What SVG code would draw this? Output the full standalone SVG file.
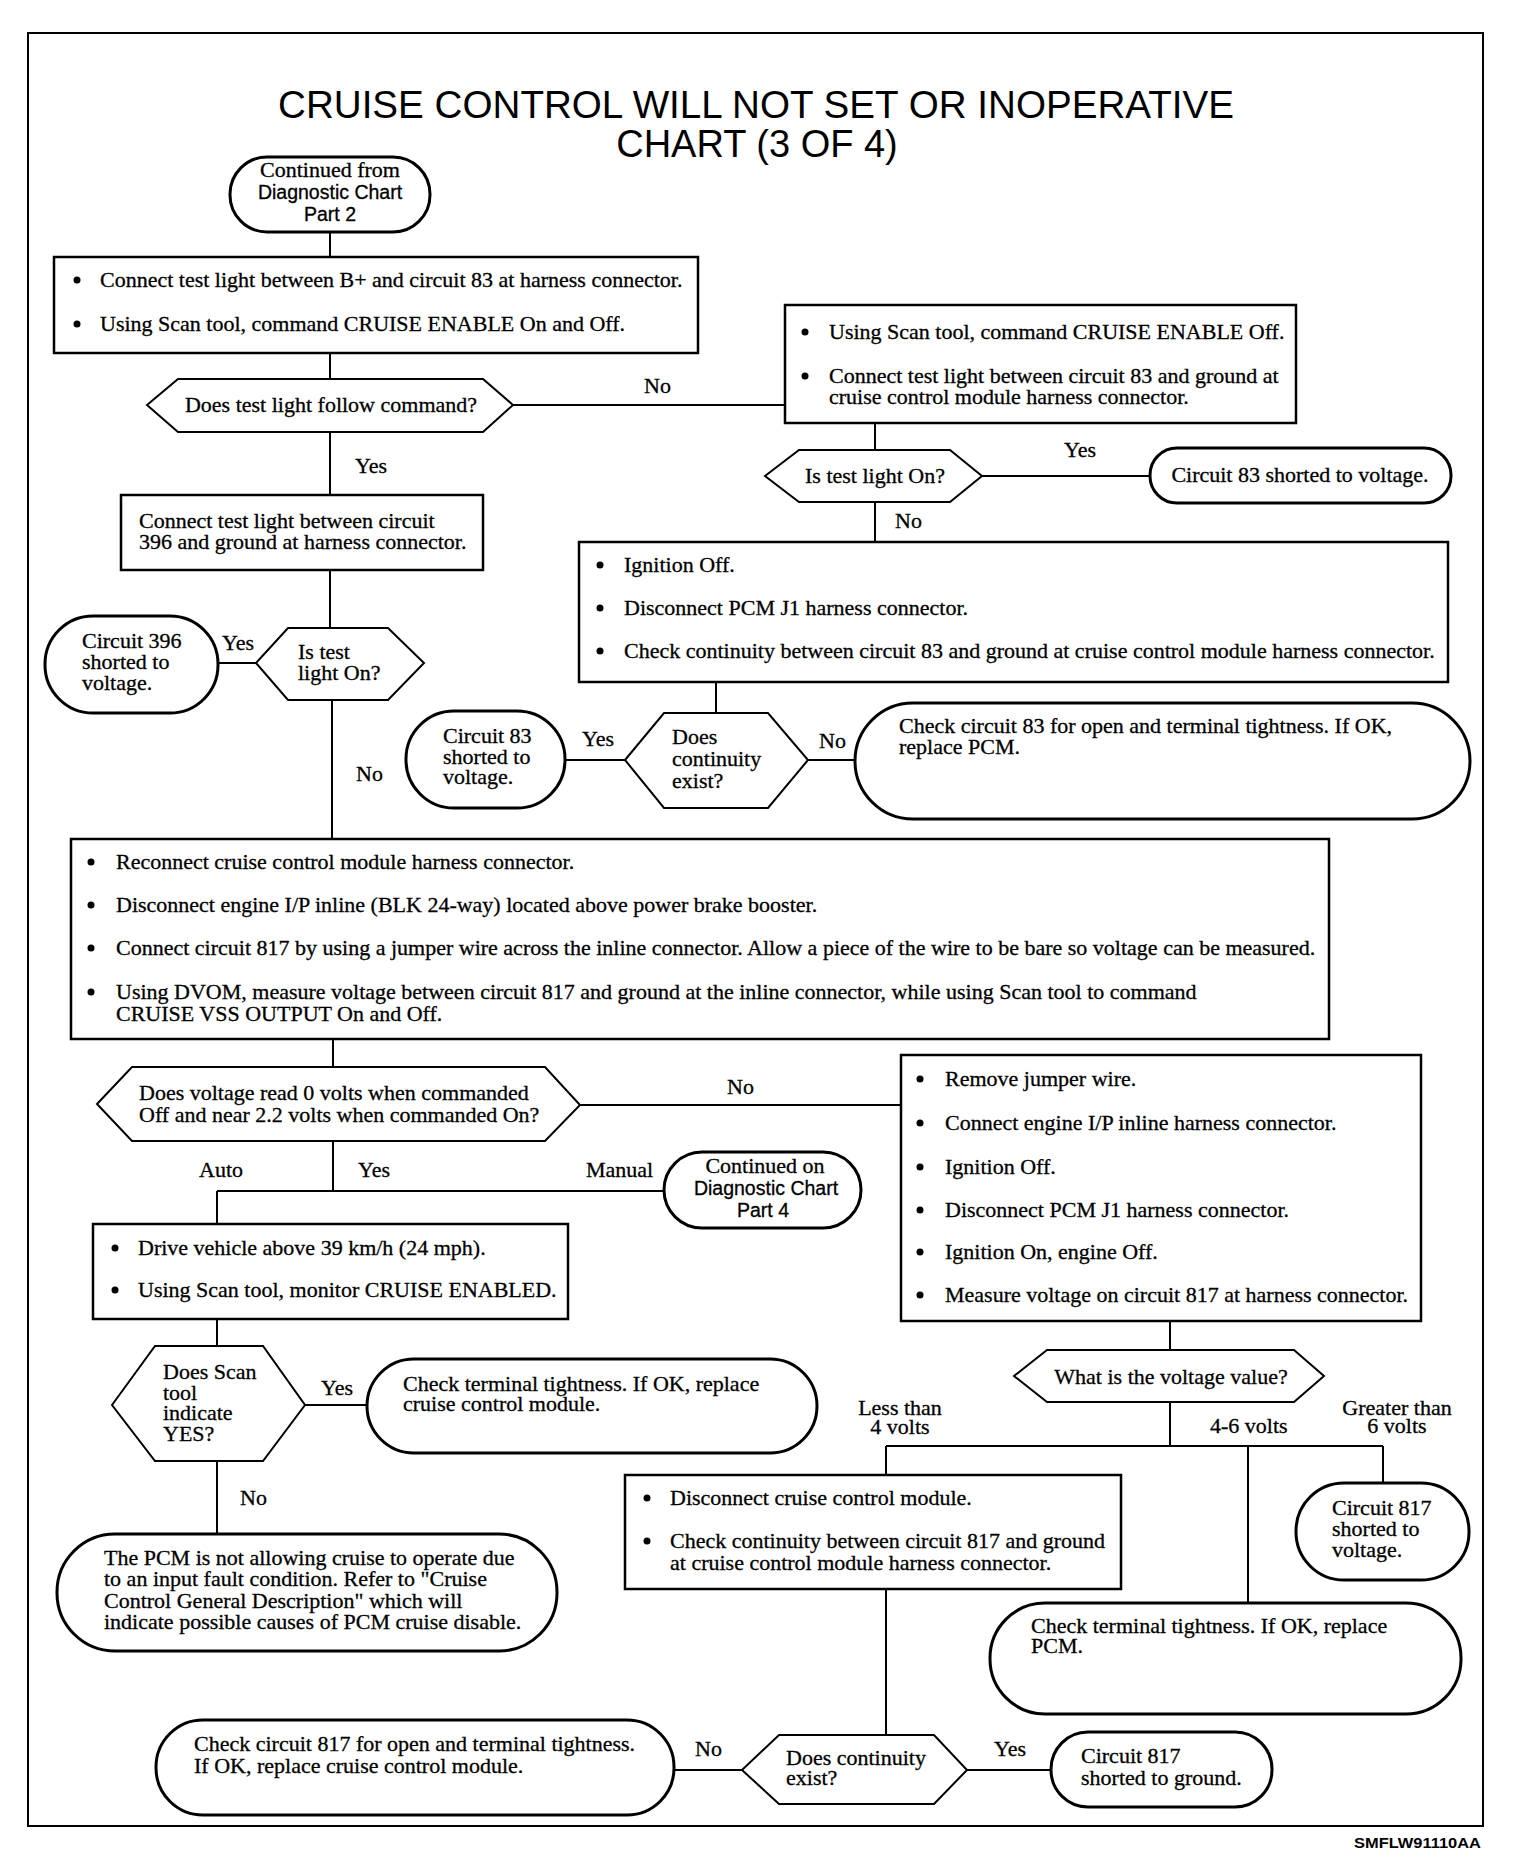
<svg xmlns="http://www.w3.org/2000/svg" width="1536" height="1862" viewBox="0 0 1536 1862">
<style>
.t{font-family:"Liberation Serif","Times New Roman",serif;font-size:22px;fill:#000;stroke:#000;stroke-width:0.3}
.c{text-anchor:middle}
.h{font-family:"Liberation Sans",Arial,sans-serif;font-size:19.5px;fill:#000;stroke:#000;stroke-width:0.3}
.title{font-family:"Liberation Sans",Arial,sans-serif;font-size:38px;fill:#000;text-anchor:middle}
.box{fill:#fff;stroke:#000;stroke-width:2.5}
.term{fill:#fff;stroke:#000;stroke-width:3}
.dec{fill:#fff;stroke:#000;stroke-width:2}
.ln{stroke:#000;stroke-width:2;fill:none}
.frame{fill:none;stroke:#000;stroke-width:2}
.b{fill:#000}
</style>
<rect width="1536" height="1862" fill="#fff"/>
<rect class="frame" x="28" y="33" width="1455" height="1793"/>
<g id="title">
<text class="title" x="756" y="118" textLength="956" lengthAdjust="spacingAndGlyphs">CRUISE CONTROL WILL NOT SET OR INOPERATIVE</text>
<text class="title" x="757" y="157">CHART (3 OF 4)</text>
</g>
<g id="connectors">
<path class="ln" d="M330 232V257M330 353V379M513 405H785M330 432V495M875 423V450M982 476H1150M875 502V542M330 570V628M256 663H218M332 700V839M716 682V713M625 760H565M808 760H855M333 1039V1067M580 1105H901M333 1141V1191M217 1191H664M217 1191V1224M217 1319V1346M305 1405H367M217 1461V1534M1170 1321V1350M1170 1402V1446M886 1446H1383M886 1446V1475M1248 1446V1603M1383 1446V1483M886 1589V1735M742 1770H674M967 1770H1051"/>
<text class="t" x="644" y="393">No</text>
<text class="t" x="355" y="473">Yes</text>
<text class="t" x="895" y="528">No</text>
<text class="t" x="1064" y="457">Yes</text>
<text class="t" x="222" y="650">Yes</text>
<text class="t" x="356" y="781">No</text>
<text class="t" x="582" y="746">Yes</text>
<text class="t" x="819" y="748">No</text>
<text class="t" x="727" y="1094">No</text>
<text class="t" x="199" y="1177">Auto</text>
<text class="t" x="358" y="1177">Yes</text>
<text class="t" x="586" y="1177">Manual</text>
<text class="t" x="321" y="1395">Yes</text>
<text class="t" x="240" y="1505">No</text>
<text class="t c" x="900" y="1415">Less than</text>
<text class="t c" x="900" y="1434">4 volts</text>
<text class="t" x="1210" y="1433">4-6 volts</text>
<text class="t c" x="1397" y="1415">Greater than</text>
<text class="t c" x="1397" y="1433">6 volts</text>
<text class="t" x="695" y="1756">No</text>
<text class="t" x="994" y="1756">Yes</text>
</g>
<g id="start">
<rect class="term" x="230" y="157" width="200" height="75" rx="37" ry="37"/>
<text class="t c" x="330" y="177">Continued from</text>
<text class="h c" x="330" y="199">Diagnostic Chart</text>
<text class="h c" x="330" y="221">Part 2</text>
</g>
<g id="box1">
<rect class="box" x="54" y="257" width="644" height="96"/>
<circle class="b" cx="77" cy="280" r="3.5"/><circle class="b" cx="77" cy="324" r="3.5"/>
<text class="t" x="100" y="287">Connect test light between B+ and circuit 83 at harness connector.</text>
<text class="t" x="100" y="331">Using Scan tool, command CRUISE ENABLE On and Off.</text>
</g>
<g id="dec1">
<polygon class="dec" points="147,405 178,379 483,379 513,405 483,432 178,432"/>
<text class="t c" x="331" y="412">Does test light follow command?</text>
</g>
<g id="box2">
<rect class="box" x="785" y="305" width="511" height="118"/>
<circle class="b" cx="805" cy="332" r="3.5"/><circle class="b" cx="805" cy="376" r="3.5"/>
<text class="t" x="829" y="339">Using Scan tool, command CRUISE ENABLE Off.</text>
<text class="t" x="829" y="383">Connect test light between circuit 83 and ground at</text>
<text class="t" x="829" y="404">cruise control module harness connector.</text>
</g>
<g id="dec2">
<polygon class="dec" points="765,476 799,450 950,450 982,476 950,502 799,502"/>
<text class="t c" x="875" y="483">Is test light On?</text>
</g>
<g id="term83v">
<rect class="term" x="1150" y="448" width="301" height="55" rx="27" ry="27"/>
<text class="t c" x="1300" y="482">Circuit 83 shorted to voltage.</text>
</g>
<g id="box4">
<rect class="box" x="121" y="495" width="362" height="75"/>
<text class="t" x="139" y="528">Connect test light between circuit</text>
<text class="t" x="139" y="549">396 and ground at harness connector.</text>
</g>
<g id="box3">
<rect class="box" x="579" y="542" width="869" height="140"/>
<circle class="b" cx="600" cy="565" r="3.5"/><circle class="b" cx="600" cy="608" r="3.5"/><circle class="b" cx="600" cy="651" r="3.5"/>
<text class="t" x="624" y="572">Ignition Off.</text>
<text class="t" x="624" y="615">Disconnect PCM J1 harness connector.</text>
<text class="t" x="624" y="658">Check continuity between circuit 83 and ground at cruise control module harness connector.</text>
</g>
<g id="dec4">
<polygon class="dec" points="256,663 288,628 388,628 424,663 388,700 288,700"/>
<text class="t" x="298" y="659">Is test</text>
<text class="t" x="298" y="680">light On?</text>
</g>
<g id="term396">
<rect class="term" x="45" y="616" width="173" height="97" rx="48" ry="48"/>
<text class="t" x="82" y="648">Circuit 396</text>
<text class="t" x="82" y="669">shorted to</text>
<text class="t" x="82" y="690">voltage.</text>
</g>
<g id="dec3">
<polygon class="dec" points="625,760 664,713 768,713 808,760 768,808 664,808"/>
<text class="t" x="672" y="744">Does</text>
<text class="t" x="672" y="766">continuity</text>
<text class="t" x="672" y="788">exist?</text>
</g>
<g id="term83b">
<rect class="term" x="406" y="711" width="159" height="97" rx="48" ry="48"/>
<text class="t" x="443" y="743">Circuit 83</text>
<text class="t" x="443" y="764">shorted to</text>
<text class="t" x="443" y="784">voltage.</text>
</g>
<g id="termCheck83">
<rect class="term" x="855" y="703" width="615" height="116" rx="58" ry="58"/>
<text class="t" x="899" y="733">Check circuit 83 for open and terminal tightness. If OK,</text>
<text class="t" x="899" y="754">replace PCM.</text>
</g>
<g id="box5">
<rect class="box" x="71" y="839" width="1258" height="200"/>
<circle class="b" cx="91" cy="862" r="3.5"/><circle class="b" cx="91" cy="905" r="3.5"/><circle class="b" cx="91" cy="948" r="3.5"/><circle class="b" cx="91" cy="992" r="3.5"/>
<text class="t" x="116" y="869">Reconnect cruise control module harness connector.</text>
<text class="t" x="116" y="912">Disconnect engine I/P inline (BLK 24-way) located above power brake booster.</text>
<text class="t" x="116" y="955">Connect circuit 817 by using a jumper wire across the inline connector. Allow a piece of the wire to be bare so voltage can be measured.</text>
<text class="t" x="116" y="999">Using DVOM, measure voltage between circuit 817 and ground at the inline connector, while using Scan tool to command</text>
<text class="t" x="116" y="1021">CRUISE VSS OUTPUT On and Off.</text>
</g>
<g id="dec5">
<polygon class="dec" points="97,1104 132,1067 545,1067 580,1105 545,1141 132,1141"/>
<text class="t" x="139" y="1100">Does voltage read 0 volts when commanded</text>
<text class="t" x="139" y="1122">Off and near 2.2 volts when commanded On?</text>
</g>
<g id="box6">
<rect class="box" x="901" y="1055" width="520" height="266"/>
<circle class="b" cx="920" cy="1079" r="3.5"/><circle class="b" cx="920" cy="1123" r="3.5"/><circle class="b" cx="920" cy="1167" r="3.5"/><circle class="b" cx="920" cy="1210" r="3.5"/><circle class="b" cx="920" cy="1252" r="3.5"/><circle class="b" cx="920" cy="1295" r="3.5"/>
<text class="t" x="945" y="1086">Remove jumper wire.</text>
<text class="t" x="945" y="1130">Connect engine I/P inline harness connector.</text>
<text class="t" x="945" y="1174">Ignition Off.</text>
<text class="t" x="945" y="1217">Disconnect PCM J1 harness connector.</text>
<text class="t" x="945" y="1259">Ignition On, engine Off.</text>
<text class="t" x="945" y="1302">Measure voltage on circuit 817 at harness connector.</text>
</g>
<g id="cont4">
<rect class="term" x="664" y="1152" width="197" height="76" rx="38" ry="38"/>
<text class="t c" x="765" y="1173">Continued on</text>
<text class="h c" x="766" y="1195">Diagnostic Chart</text>
<text class="h c" x="763" y="1217">Part 4</text>
</g>
<g id="box7">
<rect class="box" x="93" y="1224" width="475" height="95"/>
<circle class="b" cx="115" cy="1248" r="3.5"/><circle class="b" cx="115" cy="1290" r="3.5"/>
<text class="t" x="138" y="1255">Drive vehicle above 39 km/h (24 mph).</text>
<text class="t" x="138" y="1297">Using Scan tool, monitor CRUISE ENABLED.</text>
</g>
<g id="dec6">
<polygon class="dec" points="112,1405 155,1346 263,1346 305,1405 263,1461 155,1461"/>
<text class="t" x="163" y="1379">Does Scan</text>
<text class="t" x="163" y="1400">tool</text>
<text class="t" x="163" y="1420">indicate</text>
<text class="t" x="163" y="1441">YES?</text>
</g>
<g id="termCTCM">
<rect class="term" x="367" y="1359" width="450" height="94" rx="47" ry="47"/>
<text class="t" x="403" y="1391">Check terminal tightness. If OK, replace</text>
<text class="t" x="403" y="1411">cruise control module.</text>
</g>
<g id="dec7">
<polygon class="dec" points="1014,1376 1047,1350 1294,1350 1324,1376 1294,1402 1047,1402"/>
<text class="t c" x="1171" y="1384">What is the voltage value?</text>
</g>
<g id="termPCM">
<rect class="term" x="57" y="1534" width="500" height="117" rx="58" ry="58"/>
<text class="t" x="104" y="1565">The PCM is not allowing cruise to operate due</text>
<text class="t" x="104" y="1586">to an input fault condition. Refer to "Cruise</text>
<text class="t" x="104" y="1608">Control General Description" which will</text>
<text class="t" x="104" y="1629">indicate possible causes of PCM cruise disable.</text>
</g>
<g id="box8">
<rect class="box" x="625" y="1475" width="496" height="114"/>
<circle class="b" cx="647" cy="1498" r="3.5"/><circle class="b" cx="647" cy="1541" r="3.5"/>
<text class="t" x="670" y="1505">Disconnect cruise control module.</text>
<text class="t" x="670" y="1548">Check continuity between circuit 817 and ground</text>
<text class="t" x="670" y="1570">at cruise control module harness connector.</text>
</g>
<g id="term817v">
<rect class="term" x="1296" y="1483" width="173" height="97" rx="48" ry="48"/>
<text class="t" x="1332" y="1515">Circuit 817</text>
<text class="t" x="1332" y="1536">shorted to</text>
<text class="t" x="1332" y="1557">voltage.</text>
</g>
<g id="termCTPCM">
<rect class="term" x="990" y="1603" width="471" height="111" rx="55" ry="55"/>
<text class="t" x="1031" y="1633">Check terminal tightness. If OK, replace</text>
<text class="t" x="1031" y="1653">PCM.</text>
</g>
<g id="termCheck817">
<rect class="term" x="156" y="1720" width="518" height="95" rx="47" ry="47"/>
<text class="t" x="194" y="1751">Check circuit 817 for open and terminal tightness.</text>
<text class="t" x="194" y="1773">If OK, replace cruise control module.</text>
</g>
<g id="dec8">
<polygon class="dec" points="742,1770 779,1735 934,1735 967,1770 934,1804 779,1804"/>
<text class="t" x="786" y="1765">Does continuity</text>
<text class="t" x="786" y="1785">exist?</text>
</g>
<g id="term817g">
<rect class="term" x="1051" y="1732" width="221" height="75" rx="37" ry="37"/>
<text class="t" x="1081" y="1763">Circuit 817</text>
<text class="t" x="1081" y="1785">shorted to ground.</text>
</g>
<text x="1354" y="1848" font-family="Liberation Sans, Arial, sans-serif" font-weight="bold" font-size="14" textLength="127" lengthAdjust="spacingAndGlyphs">SMFLW91110AA</text>
</svg>
